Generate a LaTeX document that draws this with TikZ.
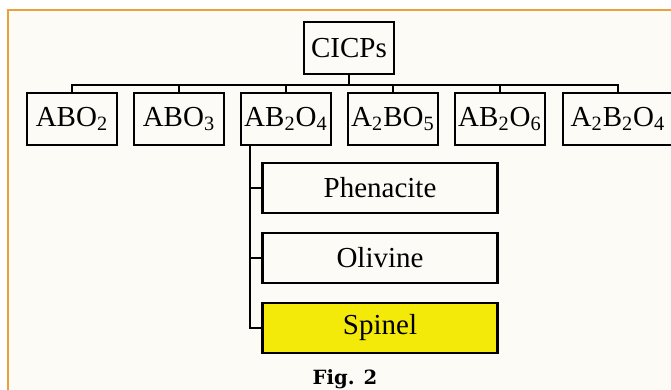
\documentclass[tikz,border=0pt]{standalone}
\usepackage{fontspec}
\setmainfont{Liberation Serif}
\newfontfamily\figfont{DejaVu Serif}
\definecolor{framecol}{RGB}{236,160,60}
\definecolor{paper}{RGB}{253,251,246}
\definecolor{spinelcol}{RGB}{244,234,10}
\tikzset{
  box/.style={draw, line width=1.2pt, inner sep=0pt, minimum width=45pt, minimum height=26pt,
    font=\fontsize{14.5}{14.5}\selectfont},
  sub/.style={box, minimum width=117.5pt, minimum height=25pt},
  link/.style={line width=1.2pt},
}
\begin{document}
\begin{tikzpicture}[x=0.5pt,y=-0.5pt]
\useasboundingbox (0,0) rectangle (671,390);
\clip (0,0) rectangle (671,390);
\fill[paper] (8,10) rectangle (671,390);
\draw[framecol, line width=1.2pt] (671,10) -- (8,10) -- (8,390);

% top
\node[box] (cicps) at (349,48) {CICPs};

% first level
\node[box] (abo2) at (72,119) {ABO\textsubscript{2}};
\node[box] (abo3) at (179,119) {ABO\textsubscript{3}};
\node[box] (ab2o4) at (286,119) {AB\textsubscript{2}O\textsubscript{4}};
\node[box] (a2bo5) at (393,119) {A\textsubscript{2}BO\textsubscript{5}};
\node[box] (ab2o6) at (500,119) {AB\textsubscript{2}O\textsubscript{6}};
\node[box, minimum width=55pt] (a2b2o4) at (618,119) {A\textsubscript{2}B\textsubscript{2}O\textsubscript{4}};
\foreach \n in {abo2,abo3,ab2o4,a2bo5,ab2o6,a2b2o4}
  \draw[link] (cicps.south) -- ++(0,10) -| (\n.north);

% second level
\node[sub] (phenacite) at (380,188) {Phenacite};
\node[sub] (olivine) at (380,258) {Olivine};
\node[sub, fill=spinelcol] (spinel) at (380,328) {Spinel};
\coordinate (trunk) at (250,0);
\draw[link] (trunk |- ab2o4.south) |- (spinel.west);
\foreach \n in {phenacite,olivine}
  \draw[link] (trunk |- \n.west) -- (\n.west);

\node[font=\figfont\bfseries\fontsize{9.8}{10}\selectfont] (fig) at (345,379) {Fig. 2};
\end{tikzpicture}
\end{document}
